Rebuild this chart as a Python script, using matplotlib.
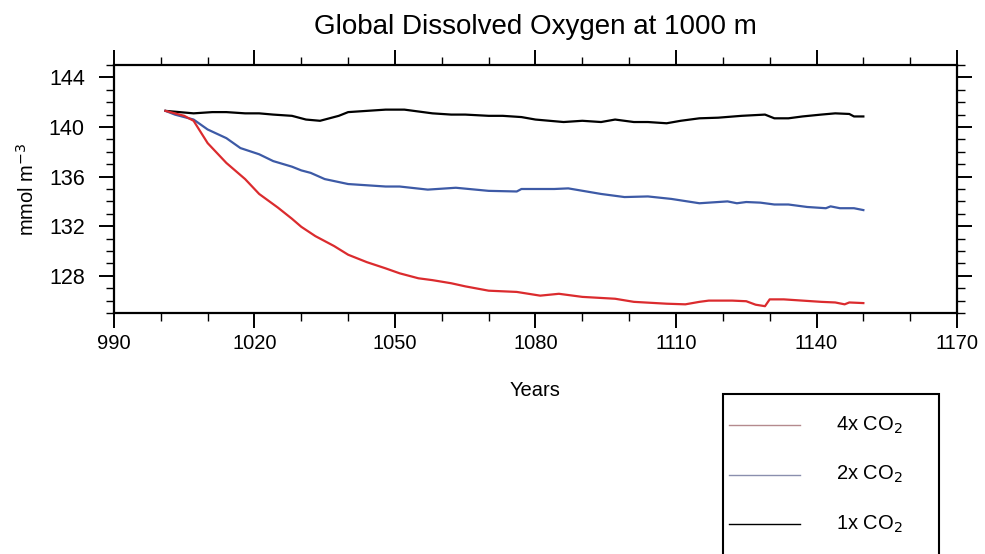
"""
Global dissolved oxygen at 1000 m for three CO2 scenarios
"""
import matplotlib
matplotlib.use("Agg")
import matplotlib.pyplot as plt
from matplotlib.lines import Line2D
from matplotlib.patches import Rectangle
from matplotlib.ticker import MultipleLocator

plt.rcParams['font.family'] = ['Liberation Sans', 'DejaVu Sans']

# values
years_1x = [1001, 1004, 1007, 1011, 1014, 1018, 1021, 1024, 1028, 1030, 1031, 1034,
            1038, 1040, 1044, 1048, 1052, 1054, 1058, 1062, 1065, 1070, 1073, 1077,
            1080, 1083, 1086, 1090, 1094, 1097, 1101, 1104, 1108, 1111, 1115, 1119,
            1124, 1129, 1131, 1134, 1137, 1141, 1144, 1147, 1148, 1150]
o2_1x = [141.3, 141.2, 141.1, 141.2, 141.2, 141.1, 141.1, 141.0, 140.9, 140.7, 140.6, 140.5,
         140.9, 141.2, 141.3, 141.4, 141.4, 141.3, 141.1, 141.0, 141.0, 140.9, 140.9, 140.8,
         140.6, 140.5, 140.4, 140.5, 140.4, 140.6, 140.4, 140.4, 140.3, 140.5, 140.7, 140.75,
         140.9, 141.0, 140.7, 140.7, 140.85, 141.0, 141.1, 141.05, 140.85, 140.85]

years_2x = [1001, 1003, 1007, 1010, 1014, 1017, 1021, 1024, 1028, 1030, 1032, 1035,
            1040, 1044, 1048, 1051, 1057, 1063, 1070, 1076, 1077, 1084, 1087, 1094,
            1099, 1104, 1109, 1115, 1121, 1123, 1125, 1128, 1131, 1134, 1138, 1142,
            1143, 1145, 1148, 1150]
o2_2x = [141.3, 141.0, 140.6, 139.8, 139.1, 138.3, 137.8, 137.25, 136.8, 136.5, 136.3, 135.8,
         135.4, 135.3, 135.2, 135.2, 134.95, 135.1, 134.85, 134.8, 135.0, 135.0, 135.05, 134.6,
         134.35, 134.4, 134.2, 133.85, 134.0, 133.85, 133.95, 133.9, 133.75, 133.75, 133.55, 133.45,
         133.6, 133.45, 133.45, 133.3]

years_4x = [1001, 1003, 1005, 1007, 1010, 1014, 1018, 1021, 1025, 1028, 1030, 1033,
            1037, 1040, 1044, 1048, 1051, 1055, 1058, 1062, 1065, 1070, 1076, 1081,
            1085, 1090, 1097, 1101, 1108, 1112, 1115, 1117, 1122, 1125, 1127, 1129,
            1130, 1133, 1137, 1141, 1144, 1146, 1147, 1150]
o2_4x = [141.3, 141.1, 140.9, 140.5, 138.7, 137.1, 135.8, 134.6, 133.5, 132.6, 131.95, 131.2,
         130.4, 129.7, 129.1, 128.6, 128.2, 127.8, 127.65, 127.4, 127.15, 126.8, 126.7, 126.4,
         126.55, 126.3, 126.15, 125.9, 125.75, 125.7, 125.9, 126.0, 126.0, 125.95, 125.67, 125.55,
         126.1, 126.1, 126.0, 125.9, 125.85, 125.7, 125.85, 125.8]

labels = ["4x CO$_2$", "2x CO$_2$", "1x CO$_2$"]
key_colors = ["#b48a8e", "#8a8fae", "black"]


def plot():
    fig = plt.figure(figsize=(9.85, 5.54), dpi=100)
    ax = fig.add_axes([0.1157, 0.435, 0.8559, 0.4477])

    ax.plot(years_1x, o2_1x, color="black", lw=1.6)
    ax.plot(years_2x, o2_2x, color="#3d5aa6", lw=1.6)
    ax.plot(years_4x, o2_4x, color="#db2b2e", lw=1.6)

    ax.set_xlim(990, 1170)
    ax.set_ylim(125, 145)
    ax.xaxis.set_major_locator(MultipleLocator(30))
    ax.xaxis.set_minor_locator(MultipleLocator(10))
    ax.yaxis.set_major_locator(MultipleLocator(4))
    ax.yaxis.set_minor_locator(MultipleLocator(1))
    ax.tick_params(which="both", direction="out", top=True, right=True, width=1.4)
    ax.tick_params(which="major", length=11, labelsize=14.5)
    ax.tick_params(axis="y", which="major", pad=10, labelsize=15.5)
    ax.tick_params(axis="x", which="major", pad=4)
    ax.tick_params(which="minor", length=6, width=1.0)
    for sp in ax.spines.values():
        sp.set_linewidth(1.6)

    ax.set_title("Global Dissolved Oxygen at 1000 m", fontsize=20, pad=22)
    ax.set_xlabel("Years", fontsize=14.5, labelpad=20)
    ax.set_ylabel("mmol m$^{-3}$", fontsize=14.5, labelpad=8)

    # legend box in the lower right, running off the bottom of the figure
    fig.add_artist(Rectangle((723 / 985, -0.1), 216 / 985, 0.1 + 160 / 554,
                             transform=fig.transFigure, fill=False,
                             edgecolor="black", lw=1.5))
    for i, (lab, col) in enumerate(zip(labels, key_colors)):
        y = 1 - (425 + 49.5 * i) / 554
        fig.add_artist(Line2D([729 / 985, 800 / 985], [y, y],
                              transform=fig.transFigure, color=col, lw=1.0))
        fig.text(836 / 985, y, lab, fontsize=14.5, va="center")

    fig.savefig("out.png", dpi=100)


if __name__ == "__main__":
    plot()
